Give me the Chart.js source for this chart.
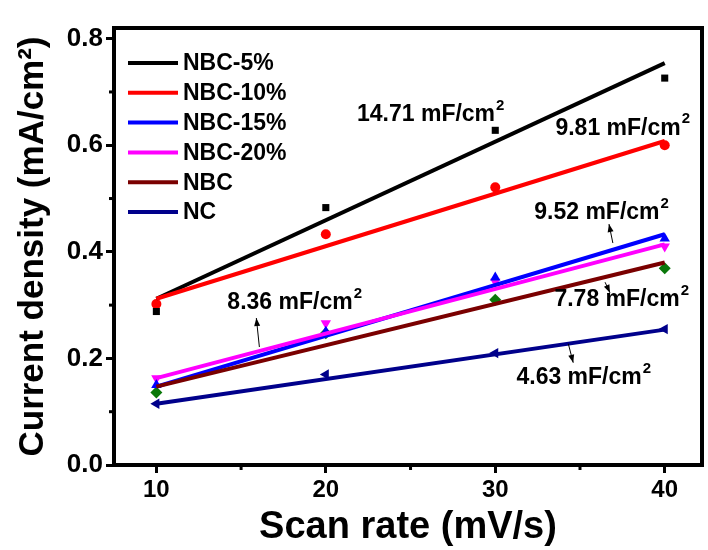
<!DOCTYPE html>
<html>
<head>
<meta charset="utf-8">
<script src="https://cdn.jsdelivr.net/npm/chart.js@4/dist/chart.umd.min.js"></script>
<style>
  html, body { margin: 0; padding: 0; background: #fff; }
  #wrap { width: 708px; height: 550px; }
</style>
</head>
<body>
<div id="wrap"><canvas id="c" width="708" height="550"></canvas></div>
<script>
// ---- data ----
const scanRates = [10, 20, 30, 40];
const xTicks = [10, 20, 30, 40];
const xMinorTicks = [15, 25, 35];
const yTicks = [0, 0.2, 0.4, 0.6, 0.8];
const yMinorTicks = [0.1, 0.3, 0.5, 0.7];

const seriesNames = ['NBC-5%', 'NBC-10%', 'NBC-15%', 'NBC-20%', 'NBC', 'NC'];
const nbc5  = [0.288, 0.483, 0.628, 0.726];
const nbc10 = [0.302, 0.433, 0.521, 0.600];
const nbc15 = [0.150, 0.250, 0.352, 0.425];
const nbc20 = [0.163, 0.266, 0.344, 0.410];
const nbc   = [0.136, 0.247, 0.310, 0.369];
const nc    = [0.115, 0.170, 0.210, 0.255];

// linear fit lines (value at x=10 and x=40)
const fitX     = [10, 40];
const fitNbc5  = [0.312, 0.754];
const fitNbc10 = [0.312, 0.608];
const fitNbc15 = [0.147, 0.433];
const fitNbc20 = [0.163, 0.414];
const fitNbc   = [0.147, 0.380];
const fitNc    = [0.115, 0.254];

const capacitances = ['14.71', '9.81', '9.52', '8.36', '7.78', '4.63'];

// ---- styling ----
const lineColors  = ['#000000', '#ff0000', '#0000ff', '#ff00ff', '#7a0000', '#00008b'];
const pointColors = ['#000000', '#ff0000', '#0000ff', '#ff00ff', '#0a780a', '#00008b'];
const pointStyles = ['rect', 'circle', 'triangle', 'triangle', 'rectRot', 'triangle'];
const pointRots   = [0, 0, 0, 180, 0, -90];
const pointRadii  = [5, 5, 6, 6, 6, 6];

const pointSeries = [nbc5, nbc10, nbc15, nbc20, nbc, nc];
const fitSeries   = [fitNbc5, fitNbc10, fitNbc15, fitNbc20, fitNbc, fitNc];

const toXY = (xs, ys) => xs.map((x, i) => ({ x: x, y: ys[i] }));

const datasets = [];
pointSeries.forEach((ys, i) => {
  datasets.push({
    type: 'scatter',
    label: seriesNames[i] + ' data',
    data: toXY(scanRates, ys),
    pointStyle: pointStyles[i],
    rotation: pointRots[i],
    pointRadius: pointRadii[i],
    backgroundColor: pointColors[i],
    borderColor: pointColors[i],
    borderWidth: 0,
    showLine: false,
    order: 10,
    isFit: false
  });
});
fitSeries.forEach((ys, i) => {
  datasets.push({
    type: 'line',
    label: seriesNames[i],
    data: toXY(fitX, ys),
    borderColor: lineColors[i],
    backgroundColor: lineColors[i],
    borderWidth: 4,
    pointRadius: 0,
    fill: false,
    order: 5 - i,
    isFit: true
  });
});

// annotation placement (data coordinates) - layout only
const annotLayout = [
  { x: 21.84, y: 0.657 },
  { x: 33.55, y: 0.632 },
  { x: 32.30, y: 0.473 },
  { x: 14.19, y: 0.304 },
  { x: 33.49, y: 0.310 },
  { x: 31.25, y: 0.163 }
];
const arrowLayout = [
  null,
  null,
  { from: [36.94, 0.4165], to: [36.71, 0.452] },
  { from: [16.08, 0.2214], to: [15.90, 0.2758] },
  { from: [36.48, 0.343],  to: [36.77, 0.323] },
  { from: [34.31, 0.2276], to: [34.60, 0.192] }
];

const FONT = '"Liberation Sans", Arial, sans-serif';

const framePlugin = {
  id: 'frame',
  afterDraw(chart) {
    const { ctx, chartArea: a, scales } = chart;
    ctx.save();
    ctx.strokeStyle = '#000';
    ctx.lineWidth = 4;
    ctx.beginPath();
    ctx.moveTo(a.left - 2, a.top);
    ctx.lineTo(a.right, a.top);
    ctx.lineTo(a.right, a.bottom + 2);
    ctx.stroke();
    // minor ticks
    ctx.lineWidth = 3;
    xMinorTicks.forEach(v => {
      const px = scales.x.getPixelForValue(v);
      ctx.beginPath(); ctx.moveTo(px, a.bottom); ctx.lineTo(px, a.bottom + 5); ctx.stroke();
    });
    yMinorTicks.forEach(v => {
      const py = scales.y.getPixelForValue(v);
      ctx.beginPath(); ctx.moveTo(a.left, py); ctx.lineTo(a.left - 5, py); ctx.stroke();
    });
    ctx.restore();
  }
};

const legendPlugin = {
  id: 'customLegend',
  afterDraw(chart) {
    const { ctx, chartArea: a } = chart;
    const fits = chart.data.datasets.filter(d => d.isFit);
    ctx.save();
    ctx.font = 'bold 23px ' + FONT;
    ctx.textBaseline = 'middle';
    ctx.fillStyle = '#000';
    fits.forEach((d, i) => {
      const y = a.top + 35 + i * 29.8;
      const x0 = a.left + 14;
      ctx.strokeStyle = d.borderColor;
      ctx.lineWidth = 4;
      ctx.beginPath(); ctx.moveTo(x0, y); ctx.lineTo(x0 + 50, y); ctx.stroke();
      ctx.fillText(d.label, x0 + 55, y + 1);
    });
    ctx.restore();
  }
};

const annotPlugin = {
  id: 'annot',
  afterDraw(chart) {
    const { ctx, scales } = chart;
    ctx.save();
    ctx.fillStyle = '#000';
    ctx.textBaseline = 'middle';
    capacitances.forEach((c, i) => {
      const p = annotLayout[i];
      const px = scales.x.getPixelForValue(p.x);
      const py = scales.y.getPixelForValue(p.y);
      const main = c + ' mF/cm';
      ctx.font = 'bold 23px ' + FONT;
      ctx.fillText(main, px, py);
      const w = ctx.measureText(main).width;
      ctx.font = 'bold 15px ' + FONT;
      ctx.fillText('2', px + w + 1, py - 9);
      const ar = arrowLayout[i];
      if (ar) {
        const x1 = scales.x.getPixelForValue(ar.from[0]);
        const y1 = scales.y.getPixelForValue(ar.from[1]);
        const x2 = scales.x.getPixelForValue(ar.to[0]);
        const y2 = scales.y.getPixelForValue(ar.to[1]);
        ctx.strokeStyle = '#000';
        ctx.lineWidth = 1;
        ctx.beginPath(); ctx.moveTo(x1, y1); ctx.lineTo(x2, y2); ctx.stroke();
        const ang = Math.atan2(y2 - y1, x2 - x1);
        const hl = 8, hw = 3;
        ctx.beginPath();
        ctx.moveTo(x2, y2);
        ctx.lineTo(x2 - hl * Math.cos(ang) + hw * Math.sin(ang), y2 - hl * Math.sin(ang) - hw * Math.cos(ang));
        ctx.lineTo(x2 - hl * Math.cos(ang) - hw * Math.sin(ang), y2 - hl * Math.sin(ang) + hw * Math.cos(ang));
        ctx.closePath();
        ctx.fill();
      }
    });
    ctx.restore();
  }
};

new Chart(document.getElementById('c'), {
  data: { datasets: datasets },
  options: {
    responsive: false,
    animation: false,
    devicePixelRatio: 1,
    layout: { padding: { top: 28, right: 5, left: 0, bottom: 0 } },
    plugins: { legend: { display: false }, tooltip: { enabled: false } },
    scales: {
      x: {
        type: 'linear',
        min: 7.5,
        max: 42.2,
        afterBuildTicks: s => { s.ticks = xTicks.map(v => ({ value: v })); },
        afterFit: s => { s.height = 85; },
        border: { width: 4, color: '#000' },
        grid: { drawOnChartArea: false, tickLength: 8, tickWidth: 3, tickColor: '#000' },
        ticks: { color: '#000', font: { family: FONT, size: 24, weight: 'bold' }, padding: 3 },
        title: { display: true, text: 'Scan rate (mV/s)', color: '#000',
                 font: { family: FONT, size: 38, weight: 'bold' }, padding: { top: -8, bottom: 0 } }
      },
      y: {
        type: 'linear',
        min: 0,
        max: 0.82,
        afterBuildTicks: s => { s.ticks = yTicks.map(v => ({ value: v })); },
        afterFit: s => { s.width = 114; },
        border: { width: 4, color: '#000' },
        grid: { drawOnChartArea: false, tickLength: 8, tickWidth: 3, tickColor: '#000' },
        ticks: { color: '#000', font: { family: FONT, size: 26, weight: 'bold' }, padding: 3,
                 callback: v => Number(v).toFixed(1) },
        title: { display: true, text: 'Current density (mA/cm²)', color: '#000',
                 font: { family: FONT, size: 35, weight: 'bold' }, padding: { top: 12, bottom: 0 } }
      }
    }
  },
  plugins: [framePlugin, legendPlugin, annotPlugin]
});
</script>
</body>
</html>
